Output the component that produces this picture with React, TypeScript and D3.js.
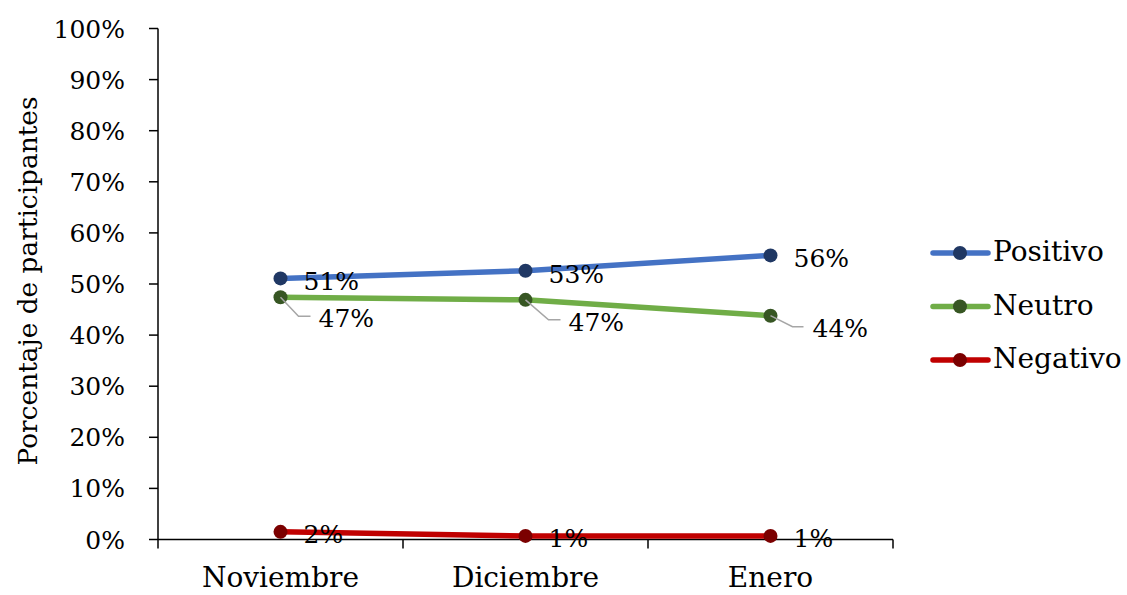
import React from "react";
import * as d3 from "d3";

const categories = ["Noviembre", "Diciembre", "Enero"];
const positivo = [0.511, 0.526, 0.556];
const neutro = [0.474, 0.469, 0.438];
const negativo = [0.015, 0.007, 0.007];
const yTicks = [0, 0.1, 0.2, 0.3, 0.4, 0.5, 0.6, 0.7, 0.8, 0.9, 1.0];

// label placement relative to each point: [leader bend dx, dy, leader end dx, text dx, baseline dy]
const neutroLabelLayout = [
  [18, 19, 30, 38, 30],
  [23, 20, 35, 43, 31],
  [22, 11, 33, 42, 21],
];

const series = [
  { name: "Positivo", values: positivo, line: "#4472C4", marker: "#203864" },
  { name: "Neutro", values: neutro, line: "#70AD47", marker: "#375623" },
  { name: "Negativo", values: negativo, line: "#C00000", marker: "#7B0000" },
];

const FONT = "'DejaVu Serif', serif";

export default function App() {
  const width = 1127;
  const height = 595;
  const left = 158;
  const right = 893;
  const top = 28.5;
  const bottom = 539.5;

  const x = d3.scalePoint<string>().domain(categories).range([left, right]).padding(0.5);
  const y = d3.scaleLinear().domain([0, 1]).range([bottom, top]);
  const step = x.step();
  const line = d3
    .line<number>()
    .x((_, i) => x(categories[i]) as number)
    .y((d) => y(d));
  const pct = d3.format(".0%");

  return (
    <svg
      width={width}
      height={height}
      style={{ position: "absolute", left: 0, top: 0, background: "#fff" }}
      fontFamily={FONT}
      fill="#000"
    >
      {/* y axis */}
      <line x1={left} x2={left} y1={top} y2={bottom} stroke="#000" strokeWidth={1.5} />
      {yTicks.map((t) => (
        <g key={t}>
          <line x1={left - 9} x2={left} y1={y(t)} y2={y(t)} stroke="#000" strokeWidth={1.5} />
          <text x={125} y={y(t) + 9} textAnchor="end" fontSize={25}>
            {pct(t)}
          </text>
        </g>
      ))}
      <text
        transform={`translate(37,${(top + bottom) / 2 - 3}) rotate(-90)`}
        textAnchor="middle"
        fontSize={26.4}
      >
        Porcentaje de participantes
      </text>

      {/* x axis */}
      <line x1={left} x2={right} y1={bottom} y2={bottom} stroke="#000" strokeWidth={1.5} />
      {d3.range(categories.length + 1).map((i) => (
        <line
          key={i}
          x1={left + i * step}
          x2={left + i * step}
          y1={bottom}
          y2={bottom + 9}
          stroke="#000"
          strokeWidth={1.5}
        />
      ))}
      {categories.map((c) => (
        <text key={c} x={x(c)} y={587} textAnchor="middle" fontSize={28}>
          {c}
        </text>
      ))}

      {/* series lines and markers */}
      {series.map((s) => (
        <g key={s.name}>
          <path d={line(s.values) as string} fill="none" stroke={s.line} strokeWidth={5.5} strokeLinecap="round" />
          {s.values.map((v, i) => (
            <circle key={i} cx={x(categories[i])} cy={y(v)} r={7} fill={s.marker} />
          ))}
        </g>
      ))}

      {/* data labels */}
      {positivo.map((v, i) => (
        <text key={"p" + i} x={(x(categories[i]) as number) + 23} y={y(v) + 12} fontSize={25}>
          {pct(v)}
        </text>
      ))}
      {neutro.map((v, i) => {
        const cx = x(categories[i]) as number;
        const cy = y(v);
        const [bx, by, ex, tx, ty] = neutroLabelLayout[i];
        return (
          <g key={"n" + i}>
            <polyline
              points={`${cx},${cy} ${cx + bx},${cy + by} ${cx + ex},${cy + by}`}
              fill="none"
              stroke="#A6A6A6"
              strokeWidth={1.5}
            />
            <text x={cx + tx} y={cy + ty} fontSize={25}>
              {pct(v)}
            </text>
          </g>
        );
      })}
      {negativo.map((v, i) => (
        <text key={"g" + i} x={(x(categories[i]) as number) + 23} y={y(v) + 11} fontSize={25}>
          {pct(v)}
        </text>
      ))}

      {/* legend */}
      {series.map((s, i) => {
        const ly = 253 + i * 53.5;
        return (
          <g key={s.name}>
            <line x1={933} x2={988} y1={ly} y2={ly} stroke={s.line} strokeWidth={5.5} strokeLinecap="round" />
            <circle cx={960} cy={ly} r={7} fill={s.marker} />
            <text x={993} y={ly + 8} fontSize={28}>
              {s.name}
            </text>
          </g>
        );
      })}
    </svg>
  );
}
